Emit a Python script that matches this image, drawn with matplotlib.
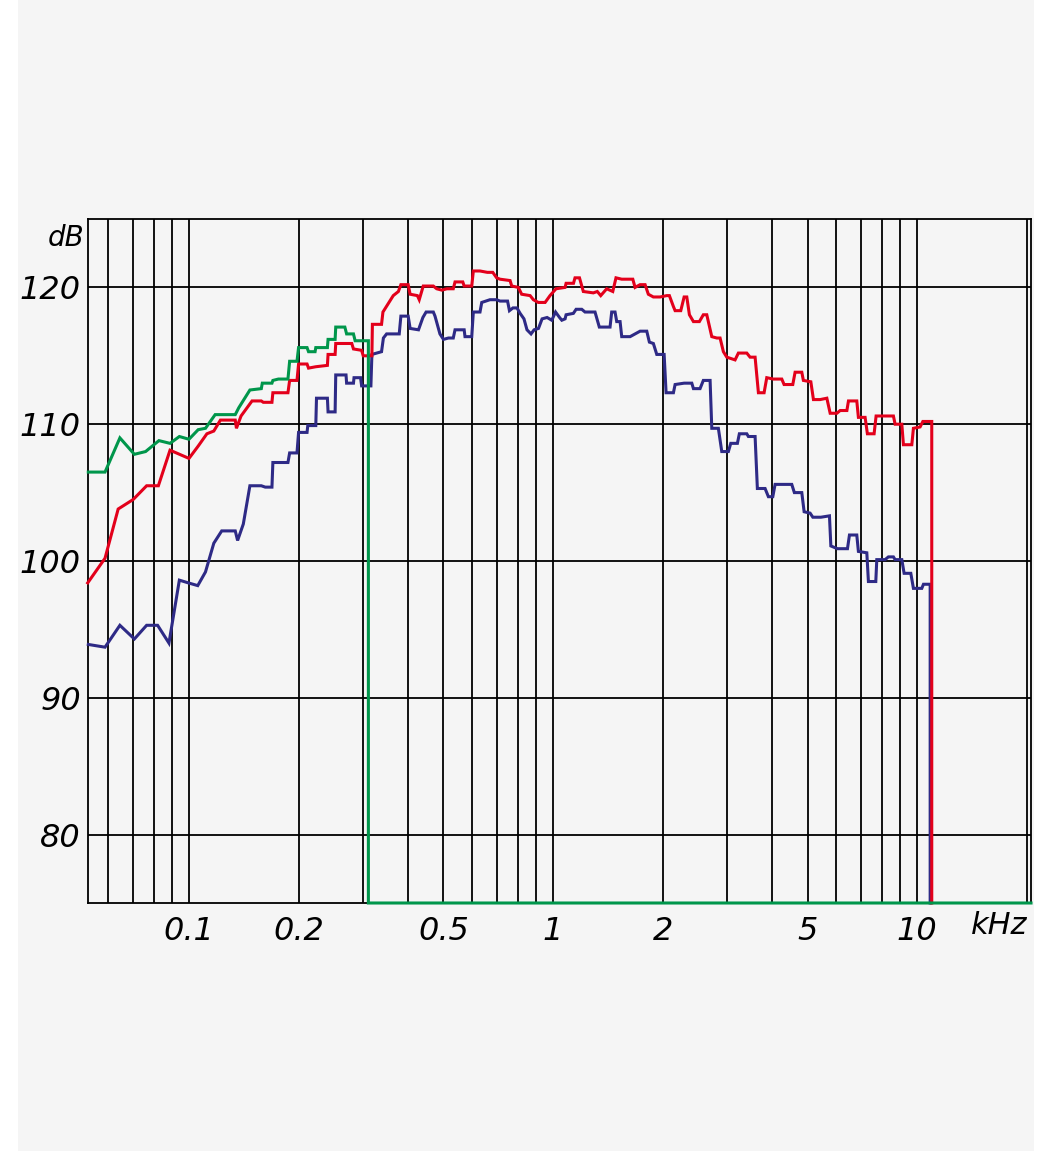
import matplotlib
matplotlib.use("Agg")
import matplotlib.pyplot as plt
from matplotlib.patches import Rectangle

# === DATOS (frecuencia en kHz, nivel en dB) ===
verde = [
    (0.0529, 106.5), (0.0588, 106.5), (0.0646, 109.0), (0.0708, 107.8), (0.0760, 108.0),
    (0.0827, 108.8), (0.0887, 108.6), (0.0941, 109.1), (0.100, 108.9), (0.106, 109.6),
    (0.111, 109.7), (0.118, 110.7), (0.134, 110.7), (0.137, 111.2), (0.147, 112.5),
    (0.158, 112.6), (0.159, 113.0), (0.169, 113.0), (0.170, 113.2), (0.176, 113.3),
    (0.187, 113.3), (0.189, 114.6), (0.198, 114.6), (0.200, 115.6), (0.211, 115.6),
    (0.213, 115.3), (0.222, 115.3), (0.223, 115.6), (0.240, 115.6), (0.241, 116.2),
    (0.252, 116.2), (0.253, 117.1), (0.268, 117.1), (0.271, 116.6), (0.283, 116.6),
    (0.286, 116.1), (0.311, 116.1), (0.311, 75.0), (20.55, 75.0),
]

rojo = [
    (0.0527, 98.4), (0.0588, 100.2), (0.0639, 103.8), (0.0703, 104.5), (0.0765, 105.5),
    (0.0824, 105.5), (0.0887, 108.1), (0.100, 107.5), (0.106, 108.4), (0.112, 109.3),
    (0.117, 109.5), (0.122, 110.3), (0.134, 110.3), (0.135, 109.7), (0.139, 110.6),
    (0.149, 111.7), (0.158, 111.7), (0.160, 111.6), (0.169, 111.6), (0.170, 112.3),
    (0.187, 112.3), (0.189, 113.2), (0.198, 113.2), (0.200, 114.4), (0.211, 114.4),
    (0.213, 114.1), (0.223, 114.2), (0.240, 114.3), (0.241, 115.1), (0.252, 115.1),
    (0.253, 115.9), (0.280, 115.9), (0.283, 115.5), (0.298, 115.4), (0.301, 115.0),
    (0.318, 115.0), (0.319, 117.3), (0.338, 117.3), (0.341, 118.2), (0.364, 119.4),
    (0.376, 119.7), (0.382, 120.2), (0.400, 120.2), (0.405, 119.5), (0.424, 119.4),
    (0.429, 119.1), (0.440, 120.1), (0.469, 120.1), (0.479, 119.9), (0.495, 119.8),
    (0.511, 119.9), (0.532, 119.9), (0.538, 120.4), (0.565, 120.4), (0.570, 120.1),
    (0.598, 120.1), (0.604, 121.2), (0.630, 121.2), (0.660, 121.1), (0.683, 121.1),
    (0.700, 120.7), (0.715, 120.6), (0.762, 120.5), (0.770, 120.1), (0.803, 120.0),
    (0.820, 119.5), (0.865, 119.4), (0.883, 119.1), (0.911, 118.9), (0.951, 118.9),
    (0.981, 119.4), (1.019, 119.9), (1.079, 120.0), (1.086, 120.3), (1.138, 120.3),
    (1.149, 120.7), (1.182, 120.7), (1.211, 119.7), (1.290, 119.6), (1.323, 119.7),
    (1.352, 119.4), (1.404, 119.9), (1.459, 119.7), (1.489, 120.7), (1.544, 120.6),
    (1.656, 120.6), (1.680, 120.0), (1.734, 120.2), (1.790, 120.2), (1.827, 119.5),
    (1.886, 119.3), (1.968, 119.3), (2.053, 119.4), (2.087, 119.4), (2.141, 118.6),
    (2.164, 118.3), (2.243, 118.3), (2.291, 119.3), (2.330, 119.3), (2.369, 118.0),
    (2.430, 117.5), (2.523, 117.5), (2.587, 118.0), (2.644, 118.0), (2.729, 116.4),
    (2.817, 116.3), (2.876, 116.3), (2.937, 115.3), (3.001, 114.9), (3.162, 114.7),
    (3.229, 115.2), (3.405, 115.2), (3.477, 114.9), (3.589, 114.9), (3.665, 112.3),
    (3.799, 112.3), (3.864, 113.4), (4.029, 113.3), (4.249, 113.3), (4.311, 112.9),
    (4.555, 112.9), (4.622, 113.8), (4.822, 113.8), (4.871, 113.2), (5.106, 113.1),
    (5.191, 111.8), (5.416, 111.8), (5.650, 111.9), (5.770, 110.8), (6.020, 110.8),
    (6.146, 111.0), (6.413, 111.0), (6.478, 111.7), (6.828, 111.7), (6.898, 110.5),
    (7.197, 110.5), (7.302, 109.3), (7.618, 109.3), (7.715, 110.6), (8.608, 110.6),
    (8.701, 110.0), (9.078, 110.0), (9.171, 108.5), (9.670, 108.5), (9.769, 109.7),
    (10.19, 109.8), (10.37, 110.2), (10.97, 110.2), (10.97, 75.0),
]

azul = [
    (0.0529, 93.9), (0.0588, 93.7), (0.0646, 95.3), (0.0708, 94.3), (0.0765, 95.3),
    (0.0820, 95.3), (0.0881, 94.0), (0.0941, 98.6), (0.0996, 98.4), (0.1057, 98.2),
    (0.111, 99.2), (0.117, 101.3), (0.123, 102.2), (0.134, 102.2), (0.136, 101.5),
    (0.141, 102.7), (0.147, 105.5), (0.158, 105.5), (0.162, 105.4), (0.169, 105.4),
    (0.170, 107.2), (0.187, 107.2), (0.189, 107.9), (0.198, 107.9), (0.200, 109.4),
    (0.211, 109.4), (0.212, 109.9), (0.223, 109.9), (0.224, 111.9), (0.240, 111.9),
    (0.241, 110.9), (0.252, 110.9), (0.253, 113.6), (0.270, 113.6), (0.271, 113.0),
    (0.283, 113.0), (0.284, 113.4), (0.296, 113.4), (0.298, 112.8), (0.316, 112.8),
    (0.318, 115.1), (0.338, 115.3), (0.342, 116.3), (0.349, 116.6), (0.378, 116.6),
    (0.382, 117.9), (0.400, 117.9), (0.405, 117.0), (0.427, 116.9), (0.439, 117.8),
    (0.448, 118.2), (0.469, 118.2), (0.474, 117.9), (0.489, 116.6), (0.500, 116.2),
    (0.516, 116.3), (0.532, 116.3), (0.538, 116.9), (0.570, 116.9), (0.573, 116.4),
    (0.598, 116.4), (0.604, 118.2), (0.630, 118.2), (0.637, 118.9), (0.671, 119.1),
    (0.700, 119.1), (0.715, 119.0), (0.750, 119.0), (0.759, 118.3), (0.776, 118.5),
    (0.796, 118.5), (0.812, 118.1), (0.832, 117.7), (0.848, 116.9), (0.870, 116.6),
    (0.887, 116.9), (0.912, 117.0), (0.933, 117.7), (0.963, 117.8), (0.992, 117.6),
    (1.016, 118.2), (1.042, 117.8), (1.057, 117.6), (1.079, 117.7), (1.086, 118.0),
    (1.137, 118.1), (1.157, 118.4), (1.199, 118.4), (1.224, 118.2), (1.304, 118.2),
    (1.340, 117.1), (1.434, 117.1), (1.449, 118.2), (1.480, 118.2), (1.496, 117.5),
    (1.528, 117.5), (1.544, 116.4), (1.628, 116.4), (1.734, 116.8), (1.809, 116.8),
    (1.839, 116.0), (1.886, 115.9), (1.927, 115.1), (2.019, 115.1), (2.044, 112.3),
    (2.141, 112.3), (2.164, 112.9), (2.291, 113.0), (2.405, 113.0), (2.430, 112.6),
    (2.534, 112.6), (2.587, 113.2), (2.700, 113.2), (2.729, 109.7), (2.845, 109.7),
    (2.907, 108.0), (3.031, 108.0), (3.077, 108.6), (3.209, 108.6), (3.249, 109.3),
    (3.405, 109.3), (3.440, 109.1), (3.589, 109.1), (3.641, 105.3), (3.823, 105.3),
    (3.904, 104.7), (4.014, 104.7), (4.073, 105.6), (4.526, 105.6), (4.601, 105.0),
    (4.822, 105.0), (4.894, 103.6), (5.082, 103.5), (5.171, 103.2), (5.440, 103.2),
    (5.744, 103.3), (5.795, 101.1), (6.042, 100.9), (6.437, 100.9), (6.519, 101.9),
    (6.828, 101.9), (6.898, 100.7), (7.275, 100.6), (7.349, 98.5), (7.700, 98.5),
    (7.749, 100.1), (8.167, 100.1), (8.339, 100.3), (8.608, 100.3), (8.701, 100.1),
    (9.078, 100.1), (9.211, 99.1), (9.609, 99.1), (9.769, 98.0), (10.30, 98.0),
    (10.41, 98.3), (10.86, 98.3), (10.86, 75.0),
]

# Rejilla y etiquetas de los ejes
frec_etiquetas = [0.1, 0.2, 0.5, 1, 2, 5, 10]
textos_frec = ["0.1", "0.2", "0.5", "1", "2", "5", "10"]
frec_rejilla = [0.06, 0.07, 0.08, 0.09, 0.1, 0.2, 0.3, 0.4, 0.5, 0.6, 0.7, 0.8, 0.9,
                1, 2, 3, 4, 5, 6, 7, 8, 9, 10, 20]
db_etiquetas = [80, 90, 100, 110, 120]

FONDO = "#f5f5f5"

fig = plt.figure(figsize=(10.49, 11.51), dpi=100)
fig.patch.set_facecolor("white")
# franja gris de fondo (deja un margen blanco a los lados)
fig.patches.append(Rectangle((18 / 1049, 0), (1034 - 18) / 1049, 1,
                             transform=fig.transFigure, facecolor=FONDO,
                             edgecolor="none", zorder=-10))

ax = fig.add_axes([88 / 1049, 248 / 1151, 943 / 1049, 684 / 1151])
ax.set_zorder(1)
ax.set_facecolor(FONDO)
ax.set_xscale("log")
ax.set_xlim(0.0528, 20.55)
ax.set_ylim(75, 125)

for f in frec_rejilla:
    ax.axvline(f, color="black", linewidth=1.3, zorder=1)
for d in db_etiquetas:
    ax.axhline(d, color="black", linewidth=1.3, zorder=1)

# Curvas: azul, rojo y verde encima
for datos, color in [(azul, "#2e2a86"), (rojo, "#e3001b"), (verde, "#00964b")]:
    xs = [p[0] for p in datos]
    ys = [p[1] for p in datos]
    ax.plot(xs, ys, color=color, linewidth=2.2, solid_joinstyle="miter",
            clip_on=False, zorder=3)

ax.set_xticks(frec_etiquetas)
ax.set_xticklabels(textos_frec)
ax.set_xticks([], minor=True)
ax.set_yticks(db_etiquetas)
ax.set_yticklabels([str(d) for d in db_etiquetas])
ax.tick_params(axis="both", length=0, labelsize=23)
ax.tick_params(axis="x", pad=9)
ax.tick_params(axis="y", pad=5)
for lab in ax.get_xticklabels() + ax.get_yticklabels():
    lab.set_fontstyle("italic")

for s in ax.spines.values():
    s.set_linewidth(1.3)
    s.set_color("black")

ax.text(-0.004, 0.972, "dB", transform=ax.transAxes, ha="right", va="center",
        fontsize=20, fontstyle="italic")
ax.text(0.966, -0.012, "kHz", transform=ax.transAxes, ha="center", va="top",
        fontsize=22, fontstyle="italic")

fig.savefig("out.png", dpi=100, facecolor=fig.get_facecolor())
